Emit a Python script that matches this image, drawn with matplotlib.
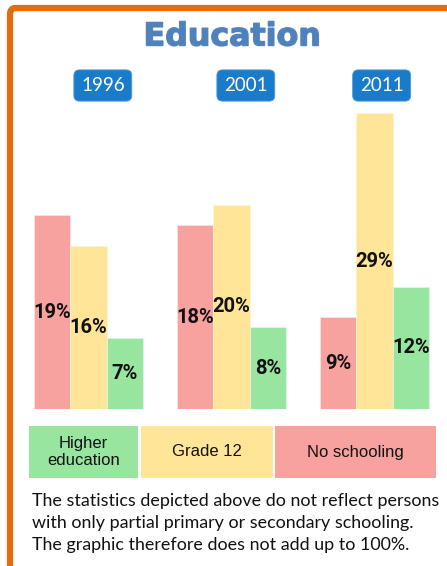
import numpy as np
import matplotlib
matplotlib.use('Agg')
import matplotlib.pyplot as plt
import matplotlib.patheffects as pe
from matplotlib.patches import Rectangle, FancyBboxPatch

years = ['1996', '2001', '2011']
no_schooling = [19, 18, 9]
grade_12 = [16, 20, 29]
higher_edu = [7, 8, 12]

legend_labels = ['Higher\neducation', 'Grade 12', 'No schooling']
note = ('The statistics depicted above do not reflect persons\n'
        'with only partial primary or secondary schooling.\n'
        'The graphic therefore does not add up to 100%.')

c_pink = '#F8A2A0'
c_yellow = '#FFE597'
c_green = '#98E5A0'
c_blue = '#1B7BCB'

W, H = 447, 566
fig = plt.figure(figsize=(W / 100, H / 100), dpi=100)

def px_box(x0, y0, x1, y1):
    # pixel box (top-left origin) -> figure fraction
    return [x0 / W, 1 - y1 / H, (x1 - x0) / W, (y1 - y0) / H]

# orange frame
frame = FancyBboxPatch((10 / W, -0.1), 1.2, (H - 8) / H + 0.1,
                       boxstyle='round,pad=0,rounding_size=0.012',
                       transform=fig.transFigure, fill=False,
                       edgecolor='#E46C0A', linewidth=4.5)
fig.add_artist(frame)

fig.text(232 / W, 1 - 37 / H, 'Education', ha='center', va='center',
         fontsize=22.8, fontweight='bold', color='#4F81BD',
         family=['DejaVu Sans'],
         path_effects=[pe.withStroke(linewidth=1.0, foreground='#5A88C2')])

# bar axes: baseline at y=409 px
ax = fig.add_axes(px_box(20, 60, 440, 409))
x = np.arange(len(years))
w = 0.254
ax.bar(x - w, no_schooling, w, color=c_pink, edgecolor='#FCE3E2', linewidth=0.6)
ax.bar(x, grade_12, w, color=c_yellow, edgecolor='#FFF4D6', linewidth=0.6)
ax.bar(x + w, higher_edu, w, color=c_green, edgecolor='#DDF6E0', linewidth=0.6)
ax.set_xlim(-0.479, 2.458)
ax.set_ylim(0, 34.2)
ax.axis('off')

lab_font = dict(fontsize=14.5, fontweight='bold', ha='center', va='center',
                color='#111111', family=['Roboto', 'DejaVu Sans'])
for series, off in [(no_schooling, -w), (grade_12, 0), (higher_edu, w)]:
    for i, v in enumerate(series):
        ax.text(i + off, v / 2, f'{v}%', **lab_font)

year_x = [0.10, 1.10, 2.05]
for i, yr in enumerate(years):
    ax.text(year_x[i], 31.7, yr, ha='center', va='center', color='white',
            fontsize=13.5, family=['Lato', 'DejaVu Sans'],
            bbox=dict(boxstyle='round,pad=0.38,rounding_size=0.3',
                      facecolor=c_blue, edgecolor='#4A9AD9', linewidth=0.6))

# legend boxes
lax = fig.add_axes(px_box(29, 426, 436, 478))
lax.set_xlim(0, 407)
lax.set_ylim(0, 1)
lax.axis('off')
spans = [(0, 109), (112, 244), (246, 407)]
for (a, b), lbl, col in zip(spans, legend_labels, [c_green, c_yellow, c_pink]):
    lax.add_patch(Rectangle((a, 0), b - a, 1, facecolor=col, edgecolor='none'))
    lax.text((a + b) / 2, 0.5, lbl, ha='center', va='center', fontsize=12,
             linespacing=1.1, color='#111111',
             family=['Liberation Sans', 'DejaVu Sans'])

fig.text(32 / W, 1 - 493 / H, note, ha='left', va='top', fontsize=12.9,
         linespacing=1.47, color='#111111', family=['Lato', 'DejaVu Sans'])

fig.savefig('out.png', dpi=100)
